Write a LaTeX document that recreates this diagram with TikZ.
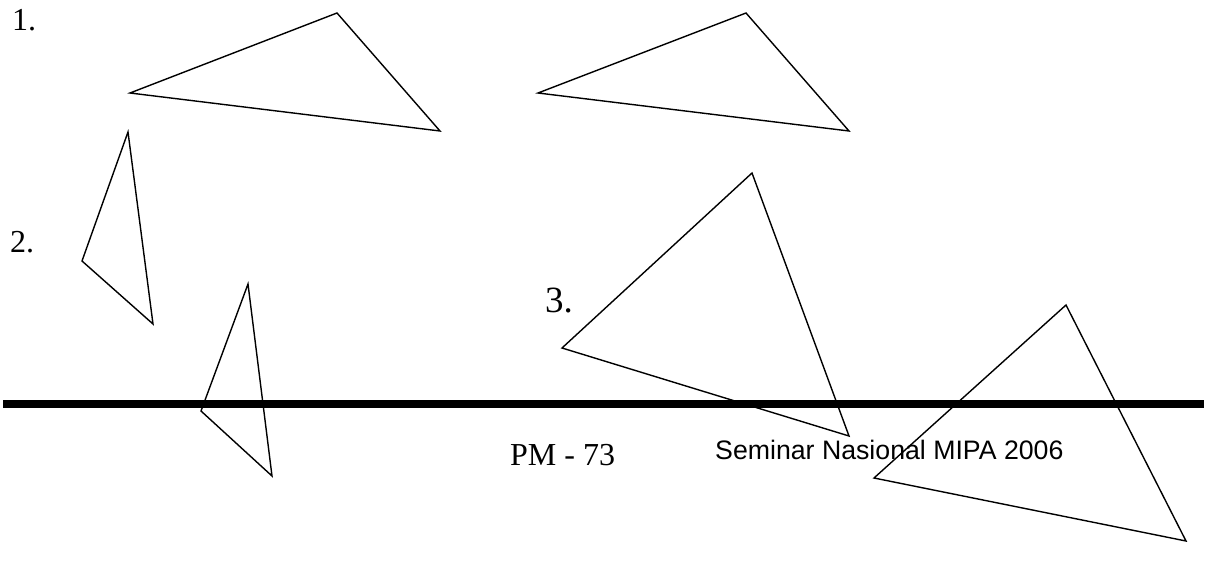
\documentclass[tikz,border=0pt]{standalone}
\usepackage{fontspec}
\setmainfont{Liberation Serif}
\setsansfont{Liberation Sans}
\begin{document}
\begin{tikzpicture}[x=1pt,y=-1pt,
  tri/.style={draw=black,line width=1.4pt,line join=miter},
  lbl/.style={anchor=base west,inner sep=0pt,font=\fontsize{32}{32}\selectfont},
  foot/.style={anchor=base west,inner sep=0pt}]
\useasboundingbox (0,0) rectangle (1209,567);
% triangles
\draw[tri] (337,13) -- (130,93) -- (440,131) -- cycle;
\draw[tri] (746,13) -- (538,93) -- (849,131) -- cycle;
\draw[tri] (128,132) -- (82,261) -- (153,324) -- cycle;
\draw[tri] (248,284) -- (201,411) -- (272,476) -- cycle;
\draw[tri] (752,173) -- (562,348) -- (849,436) -- cycle;
\draw[tri] (1066,305) -- (874,478) -- (1186,541) -- cycle;
% thick rule
\draw[line width=8pt] (3,403.5) -- (1204,403.5);
% labels
\node[lbl] (l1) at (12,31) {1.};
\node[lbl] (l2) at (10,252) {2.};
\node[lbl,font=\fontsize{37}{37}\selectfont] (l3) at (545,312) {3.};
\node[lbl,font=\fontsize{32}{32}\selectfont] (pm) at (510,465) {PM - 73};
\node[foot,font=\sffamily\fontsize{26.7}{26.7}\selectfont] (sem) at (715,459) {Seminar Nasional MIPA 2006};
\end{tikzpicture}
\end{document}
